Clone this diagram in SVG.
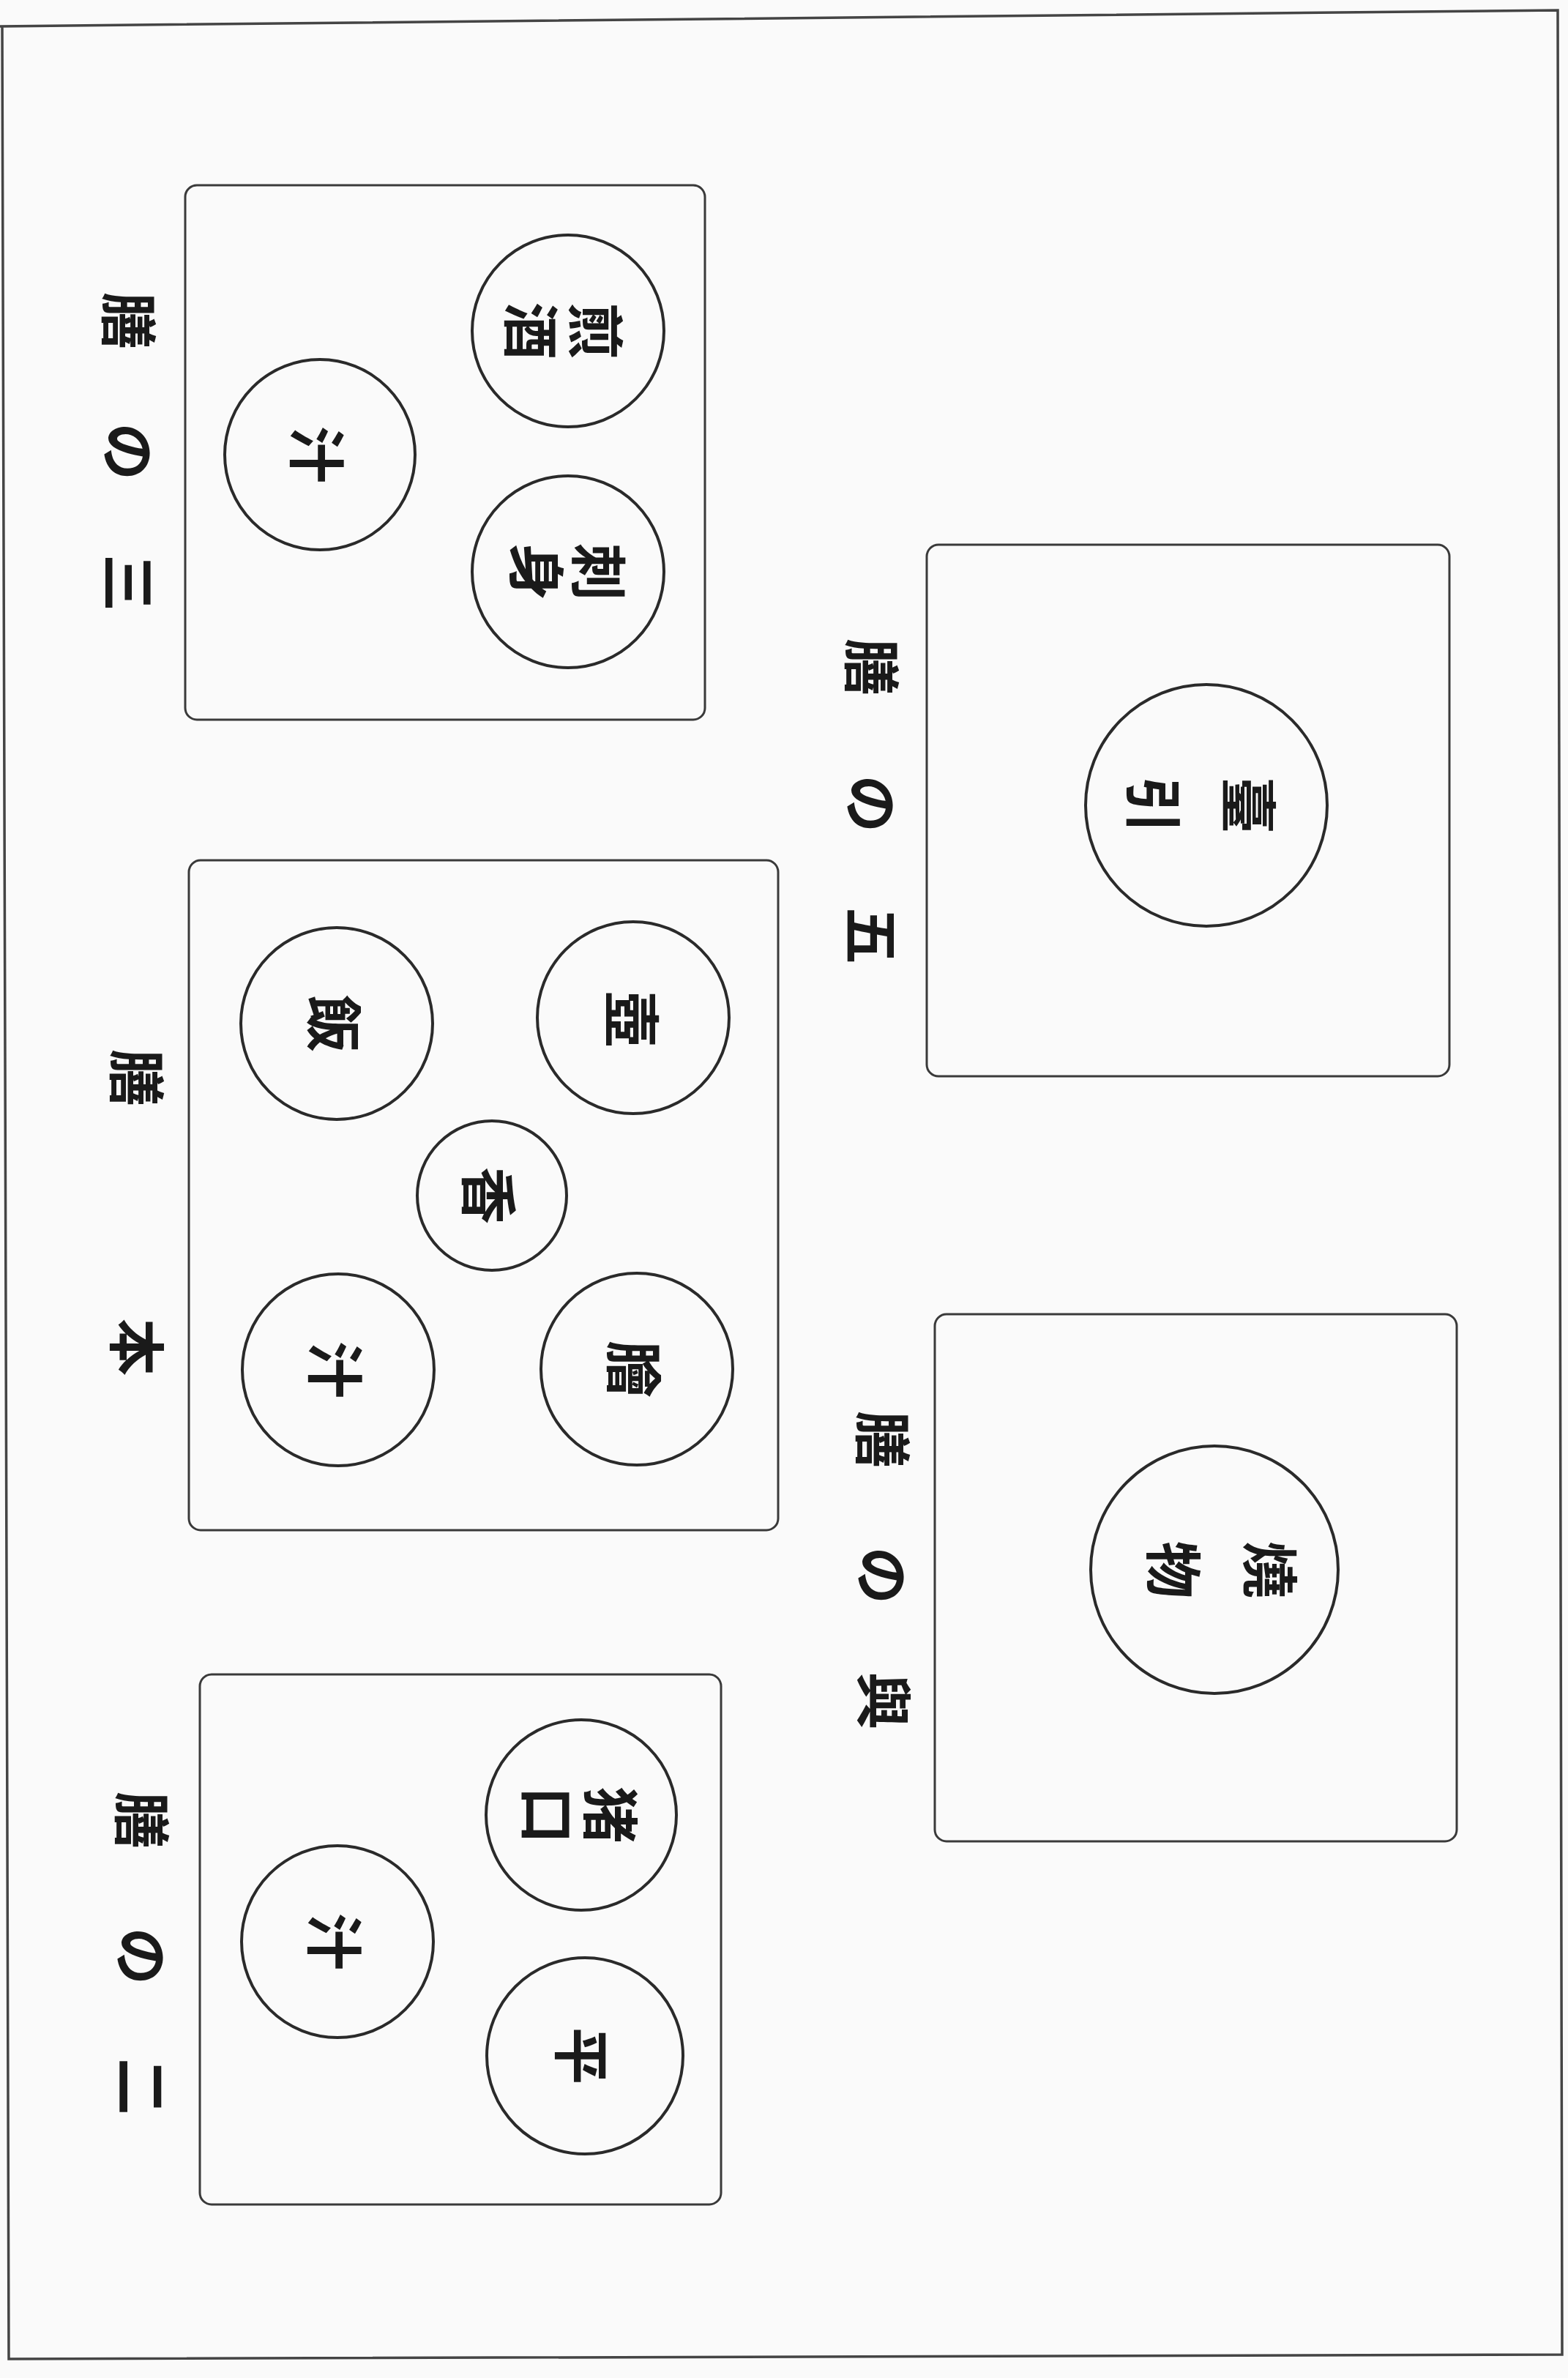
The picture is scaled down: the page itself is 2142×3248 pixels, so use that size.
<svg xmlns="http://www.w3.org/2000/svg" width="2142" height="3248" viewBox="0 0 2142 3248">
<style>
.frame{fill:none;stroke:#444;stroke-width:3.5}
.box{fill:none;stroke:#3a3a3a;stroke-width:3}
.dish{fill:none;stroke:#2a2a2a;stroke-width:4}
.t{font-family:"Noto Sans CJK JP","Noto Sans CJK SC",sans-serif;font-size:78px;font-weight:700;fill:#1a1a1a;text-anchor:middle;dominant-baseline:central}
.l{font-family:"Noto Sans CJK JP","Noto Sans CJK SC",sans-serif;font-size:78px;font-weight:700;fill:#1a1a1a;text-anchor:middle;dominant-baseline:central}
</style>
<rect x="0" y="0" width="2142" height="3248" fill="#fafafa"/>
<path class="frame" d="M0,36 L2128,14 L2134,3216 L12,3222 L3,36"/>

<g id="zen3">
<rect class="box" x="253" y="253" width="710" height="730" rx="16"/>
<circle class="dish" cx="776" cy="452" r="131"/>
<circle class="dish" cx="776" cy="781" r="131"/>
<circle class="dish" cx="437" cy="621" r="130"/>
<text class="t" transform="translate(818,452) rotate(90)">煎</text>
<text class="t" transform="translate(730,452) rotate(90)">酒</text>
<text class="t" transform="translate(822,781) rotate(90)">刺</text>
<text class="t" transform="translate(737,781) rotate(90)">身</text>
<text class="t" transform="translate(437,621) rotate(90)">汁</text>
<text class="l" transform="translate(180,438) rotate(90)">膳</text>
<text class="l" transform="translate(180,617) rotate(90)">の</text>
<text class="l" transform="translate(180,796) rotate(90)">三</text>
</g>

<g id="honzen">
<rect class="box" x="258" y="1175" width="805" height="915" rx="16"/>
<circle class="dish" cx="460" cy="1398" r="131"/>
<circle class="dish" cx="865" cy="1390" r="131"/>
<circle class="dish" cx="672" cy="1633" r="102"/>
<circle class="dish" cx="462" cy="1871" r="131"/>
<circle class="dish" cx="870" cy="1870" r="131"/>
<text class="t" transform="translate(460,1398) rotate(90)">飯</text>
<text class="t" transform="translate(867,1392) rotate(90)">壺</text>
<text class="t" transform="translate(672,1633) rotate(90)">香</text>
<text class="t" transform="translate(462,1871) rotate(90)">汁</text>
<text class="t" transform="translate(870,1870) rotate(90)">膾</text>
<text class="l" transform="translate(191,1472) rotate(90)">膳</text>
<text class="l" transform="translate(191,1840) rotate(90)">本</text>
</g>

<g id="zen2">
<rect class="box" x="273" y="2287" width="712" height="724" rx="16"/>
<circle class="dish" cx="794" cy="2479" r="130"/>
<circle class="dish" cx="799" cy="2808" r="134"/>
<circle class="dish" cx="461" cy="2652" r="131"/>
<text class="t" transform="translate(838,2479) rotate(90)">猪</text>
<text class="t" transform="translate(752,2479) rotate(90)">口</text>
<text class="t" transform="translate(799,2808) rotate(90)">平</text>
<text class="t" transform="translate(461,2652) rotate(90)">汁</text>
<text class="l" transform="translate(198,2486) rotate(90)">膳</text>
<text class="l" transform="translate(198,2672) rotate(90)">の</text>
<text class="l" transform="translate(198,2850) rotate(90)">二</text>
</g>

<g id="zen5">
<rect class="box" x="1266" y="744" width="714" height="726" rx="16"/>
<circle class="dish" cx="1648" cy="1100" r="165"/>
<text class="t" transform="translate(1710,1100) rotate(90)">臺</text>
<text class="t" transform="translate(1580,1100) rotate(90)">引</text>
<text class="l" transform="translate(1195,911) rotate(90)">膳</text>
<text class="l" transform="translate(1195,1098) rotate(90)">の</text>
<text class="l" transform="translate(1195,1278) rotate(90)">五</text>
</g>

<g id="zen4">
<rect class="box" x="1277" y="1795" width="713" height="720" rx="16"/>
<circle class="dish" cx="1659" cy="2144" r="169"/>
<text class="t" transform="translate(1739,2144) rotate(90)">燒</text>
<text class="t" transform="translate(1607,2144) rotate(90)">物</text>
<text class="l" transform="translate(1210,1966) rotate(90)">膳</text>
<text class="l" transform="translate(1210,2152) rotate(90)">の</text>
<text class="l" transform="translate(1212,2323) rotate(90)">與</text>
</g>
</svg>
